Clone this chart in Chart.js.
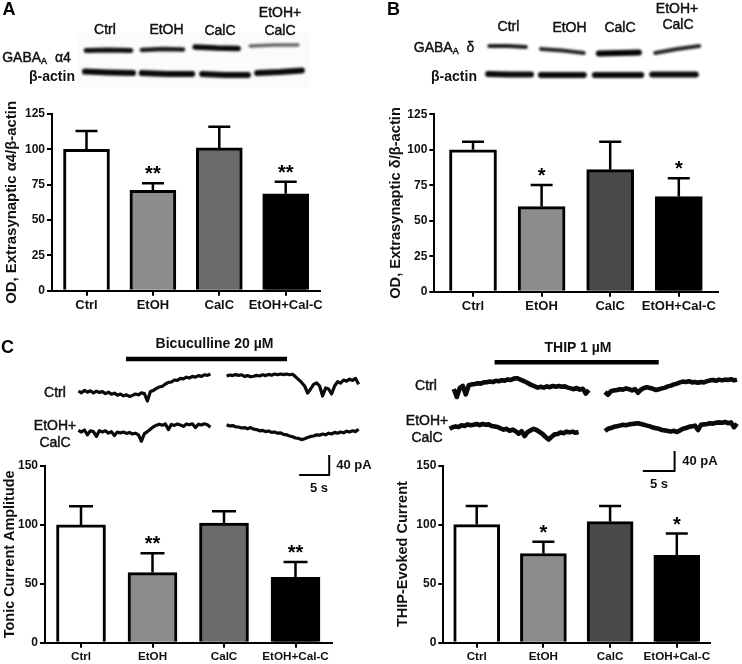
<!DOCTYPE html>
<html>
<head>
<meta charset="utf-8">
<script src="https://cdn.jsdelivr.net/npm/chart.js@4"></script>
<style>
html, body { margin: 0; background: #fff; }
#fig { position: relative; width: 742px; height: 664px; overflow: hidden; filter: blur(0.4px); font-family: "Liberation Sans", Arial, sans-serif; color: #111; }
canvas { position: absolute; }
.t { position: absolute; white-space: nowrap; font-size: 14px; -webkit-text-stroke: 0.45px #111; transform: translate(-50%, -50%); }
.b { font-weight: bold; -webkit-text-stroke: 0; }
.p { font-weight: bold; font-size: 18px; -webkit-text-stroke: 0; color: #000; }
sub { font-size: 9px; vertical-align: -2px; line-height: 0; }
</style>
</head>
<body>
<div id="fig"></div>
<script>
//bars

const categories = ["Ctrl", "EtOH", "CalC", "EtOH+Cal-C"];

const valuesA = [100, 71, 101, 68.5];
const errTopA = [113, 76, 116, 77];
const starsA = ["", "**", "", "**"];

const valuesB = [100, 60, 86, 67];
const errTopB = [105.7, 75.2, 105.7, 79.9];
const starsB = ["", "*", "", "*"];

const valuesC1 = [100, 59.5, 101.5, 55.5];
const errTopC1 = [115.8, 76, 111.5, 68.5];
const starsC1 = ["", "**", "", "**"];

const valuesC2 = [100, 75.5, 102.5, 74];
const errTopC2 = [115.8, 85.4, 115.8, 92.4];
const starsC2 = ["", "*", "", "*"];

//blots: lane positions and band levels (left, middle, right)

const laneA4 = [[0.14, 0.91], [1.10, 1.81], [2.02, 2.76], [2.97, 3.79]];
const levelA4 = [[18.5, 18, 18.5], [18, 17, 17.5], [15, 16, 16.5], [14, 13, 13]];
const laneActinA = [[0.12, 0.95], [1.10, 1.97], [2.14, 2.93], [3.09, 3.86]];
const levelActinA = [[39.5, 40.5, 41], [41, 42, 42], [42, 43, 43], [41, 40, 38.5]];

const laneDelta = [[0.16, 0.79], [1.05, 1.79], [2.05, 2.74], [3.02, 3.78]];
const levelDelta = [[14, 14, 15], [17, 18.5, 21], [21.5, 21, 20.5], [21, 17, 14]];
const laneActinB = [[0.14, 0.88], [1.05, 1.79], [1.98, 2.78], [2.97, 3.72]];
const levelActinB = [[42, 42.5, 42.5], [43, 43, 43], [43, 43, 43], [42.5, 42.5, 42.5]];

//traces, one sample each 0.5 s, 1 unit = 4 pA

const ctrlBic1 = [44.5,43.6,44.8,43.9,44.6,43.5,44.4,43.8,44.2,43.2,43.9,42.9,43.4,42.4,43.0,42.1,42.6,41.8,42.3,43.0,42.6,43.6,43.2,39.5,44.2,44.8,45.8,46.5,46.9,48.0,48.8,49.0,50.0,49.8,50.8,50.6,51.4,51.0,51.8,51.4,52.2,51.8,52.6,52.3,53.0];
const ctrlBic2 = [52,52.5,52.2,52.7,52.3,52.6,51.8,52.2,51.6,51.9,52.3,52,52.6,52.2,52.8,52.4,53,52.6,53,52.7,53,52.6,52.9,51.6,50.2,48.8,47,43.5,45.5,47.8,48.6,47,42,46,45.5,43,47,49.2,48.4,50,49.4,50.4,49.8,50.8,47.8];
const etohBic1 = [24.8,24.0,25.0,22.6,24.6,24.2,21.8,24.7,24.0,24.6,23.4,24.2,22.2,24.0,23.5,24.0,23.3,23.8,23.0,23.4,22.6,19.4,23.2,24.2,25.4,26.6,27.4,27.9,27.4,28,25.2,27.8,27.3,28,27.5,26.8,28,27.6,28.1,26.2,27.9,27.5,28.1,27.6,26.4];
const etohBic2 = [27.6,27.0,27.2,26.6,26.5,26,26.2,25.6,26.2,25.4,25.2,24.6,24.8,24.2,24.5,23.8,24.0,23.4,23.6,22.8,22.6,22,21.6,21,20.8,20.2,20.6,21.2,21.8,22,22.6,22.4,23,22.6,23.4,23,23.8,23.4,24,23.6,24.4,24,24.6,24.2,25.4];

const ctrlThip1 = [45.5,41.5,46,47,42.8,47.4,47.8,48,48.4,48.2,48.8,48.9,49.2,49,49.6,49.4,49.9,49.7,50.3,50,50.7,50.9,50.3,49.7,49,48.2,47.4,46.8,46.2,46.6,46.2,46.8,46.4,47,46.6,47,46.6,46.8,46.2,45.8,45.4,46,45.2,45.6,43.2,45];
const ctrlThip2 = [44,42.6,44.4,44.8,45,45.4,45.2,45.8,45.4,44.8,45.4,43.6,45.2,46,46.4,46,45.6,45,45.4,45.8,46.2,46.8,47.2,47.8,48.2,48.8,49.2,49,49.4,48.8,49,48.6,49,48.8,49.4,49.8,50,49.6,50.2,49.8,50.2,50,50.4,49.8,50.2];
const etohThip1 = [25.6,26.4,26.8,26.5,27.4,27,27.8,27.4,27.6,28,27.4,28,27.6,27.8,27,26.8,26.5,25.8,25.2,25.6,24.6,25.2,24.4,23.2,24.4,22,24,24.8,25.6,25,24,23,21.5,20.2,21.6,22.8,23,23.8,23.4,24.2,23.8,24.2,23.6,24];
const etohThip2 = [24.5,25.6,26,26.6,26.9,27.2,27.6,27.4,27.8,28,28.2,28.4,28,27.6,27.2,26.8,26.2,25.9,25.6,25,24.8,24.5,24.2,24.6,24,24.8,25.6,26,26.6,26.8,27.2,25,27.6,27.8,28,28.4,28.2,28.6,28.8,28.6,29,28.4,28.8,26.4,28.2];

const FONT = "'Liberation Sans', Arial, sans-serif";
let fig = document.getElementById("fig");

function addCanvas(left, top, w, h) {
	let c = document.createElement("canvas");
	c.width = w;
	c.height = h;
	c.style.left = left + "px";
	c.style.top = top + "px";
	c.style.width = w + "px";
	c.style.height = h + "px";
	fig.appendChild(c);
	return c;
}

function label(html, x, y, cls, size) {
	let d = document.createElement("div");
	d.className = "t " + (cls || "");
	d.innerHTML = html;
	d.style.left = x + "px";
	d.style.top = y + "px";
	if (size) d.style.fontSize = size + "px";
	fig.appendChild(d);
}

// s holds the box of one bar panel, all in page pixels
function barPanel(s) {
	let c = addCanvas(s.cx, s.cy, s.cw, s.ch);
	let errPlugin = {
		id: "errs",
		afterDatasetsDraw(chart) {
			let ctx = chart.ctx, x = chart.scales.x, y = chart.scales.y;
			ctx.save();
			ctx.strokeStyle = "#000";
			ctx.fillStyle = "#000";
			ctx.lineWidth = 2.5;
			s.values.forEach((v, i) => {
				let px = x.getPixelForValue(i);
				let top = y.getPixelForValue(s.errTop[i]);
				ctx.beginPath();
				ctx.moveTo(px, y.getPixelForValue(v));
				ctx.lineTo(px, top);
				ctx.moveTo(px - s.cap, top);
				ctx.lineTo(px + s.cap, top);
				ctx.stroke();
				if (s.stars[i]) {
					ctx.font = "bold 20px " + FONT;
					ctx.textAlign = "center";
					ctx.textBaseline = "alphabetic";
					ctx.fillText(s.stars[i], px, top - 3);
				}
			});
			ctx.restore();
		}
	};
	new Chart(c, {
		type: "bar",
		plugins: [errPlugin],
		data: {
			datasets: [{
				data: s.values.map((v, i) => ({ x: i, y: v })),
				backgroundColor: s.fills,
				borderColor: "#000",
				borderWidth: 3,
				borderSkipped: "bottom",
				barThickness: s.barW
			}]
		},
		options: {
			responsive: false,
			animation: false,
			layout: { padding: { top: s.yTop - s.cy, right: s.cx + s.cw - s.right, left: 0, bottom: 0 } },
			plugins: { legend: { display: false }, tooltip: { enabled: false } },
			scales: {
				x: {
					type: "linear",
					offset: false,
					min: (s.left - s.c0) / s.step,
					max: (s.right - s.c0) / s.step,
					afterFit: a => { a.height = s.cy + s.ch - s.y0; },
					afterBuildTicks: a => { a.ticks = categories.map((n, i) => ({ value: i })); },
					border: { color: "#000", width: 2 },
					grid: { drawOnChartArea: false, offset: false, color: "#000", lineWidth: 2, tickLength: 5 },
					ticks: {
						autoSkip: false, maxRotation: 0, padding: 2, color: "#111",
						font: { family: FONT, weight: "bold", size: s.xSize },
						callback: v => categories[v]
					}
				},
				y: {
					min: 0,
					max: s.max,
					afterFit: a => { a.width = s.left - s.cx; },
					border: { color: "#000", width: 2 },
					grid: { drawOnChartArea: false, color: "#000", lineWidth: 2, tickLength: 5 },
					title: {
						display: true, text: s.title, color: "#111",
						padding: { top: s.titlePad, bottom: 0 },
						font: { family: FONT, weight: "bold", size: s.titleSize }
					},
					ticks: {
						stepSize: s.stepY, padding: 2, color: "#111",
						font: { family: FONT, weight: "bold", size: 12 }
					}
				}
			}
		}
	});
}

function linePanel(left, top, w, h, xMax, yMax, reverse, datasets, blur, bg) {
	let c = addCanvas(left, top, w, h);
	if (blur) c.style.filter = "blur(" + blur + "px)";
	if (bg) c.style.background = bg;
	new Chart(c, {
		type: "line",
		data: { datasets: datasets },
		options: {
			responsive: false,
			animation: false,
			layout: { padding: 0 },
			plugins: { legend: { display: false }, tooltip: { enabled: false } },
			elements: { point: { radius: 0 }, line: { tension: 0, borderJoinStyle: "round" } },
			scales: {
				x: { type: "linear", min: 0, max: xMax, display: false },
				y: { type: "linear", min: 0, max: yMax, reverse: reverse, display: false }
			}
		}
	});
}

function bands(lanes, levels, colors, widths) {
	return lanes.map((l, i) => ({
		data: levels[i].map((v, j) => ({ x: l[0] + (l[1] - l[0]) * j / 2, y: v })),
		borderColor: colors[i],
		borderWidth: widths[i],
		borderCapStyle: "round"
	}));
}

function trace(values, start, width) {
	return {
		data: values.map((v, i) => ({ x: start + i * 0.5, y: v })),
		borderColor: "#0a0a0a",
		borderWidth: width
	};
}

function solid(xs, ys, width) {
	return {
		data: xs.map((x, i) => ({ x: x, y: ys[i] })),
		borderColor: "#000",
		borderWidth: width
	};
}

//panels A and B

barPanel({ cx: 0, cy: 100, cw: 345, ch: 220, left: 52, right: 320, yTop: 114, y0: 290.7, c0: 86.5, step: 66.4, barW: 46, cap: 11,
	max: 125, stepY: 25, values: valuesA, errTop: errTopA, stars: starsA, fills: ["#fff", "#8c8c8c", "#6a6a6a", "#000"],
	title: "OD, Extrasynaptic α4/β-actin", titleSize: 14.9, titlePad: 3, xSize: 13 });

barPanel({ cx: 371, cy: 100, cw: 371, ch: 220, left: 434.3, right: 718, yTop: 114.3, y0: 291.7, c0: 473, step: 68.6, barW: 47, cap: 11,
	max: 125, stepY: 25, values: valuesB, errTop: errTopB, stars: starsB, fills: ["#fff", "#8c8c8c", "#4a4a4a", "#000"],
	title: "OD, Extrasynaptic δ/β-actin", titleSize: 14.7, titlePad: 16, xSize: 13 });

//panel C bars

barPanel({ cx: 0, cy: 455, cw: 345, ch: 209, left: 45, right: 331.7, yTop: 466, y0: 642.7, c0: 81, step: 71.5, barW: 49, cap: 12,
	max: 150, stepY: 50, values: valuesC1, errTop: errTopC1, stars: starsC1, fills: ["#fff", "#8c8c8c", "#6a6a6a", "#000"],
	title: "Tonic Current Amplitude", titleSize: 14.4, titlePad: 1, xSize: 11.7 });

barPanel({ cx: 371, cy: 455, cw: 371, ch: 209, left: 443.3, right: 710, yTop: 465.5, y0: 642.7, c0: 476.7, step: 66.7, barW: 46, cap: 11,
	max: 150, stepY: 50, values: valuesC2, errTop: errTopC2, stars: starsC2, fills: ["#fff", "#8c8c8c", "#4a4a4a", "#000"],
	title: "THIP-Evoked Current", titleSize: 14.5, titlePad: 23, xSize: 11.7 });

//blots

let blotA = bands(laneA4, levelA4, ["#111", "#1c1c1c", "#0a0a0a", "#666"], [5, 4.5, 5.5, 3.5])
	.concat(bands(laneActinA, levelActinA, ["#0a0a0a", "#0a0a0a", "#0a0a0a", "#0a0a0a"], [6, 6, 6, 6]));
linePanel(78, 32, 232, 56, 4, 56, true, blotA, 1.1, "#fbfbfb");

let blotB = bands(laneDelta, levelDelta, ["#1c1c1c", "#262626", "#050505", "#262626"], [4, 4, 6, 4])
	.concat(bands(laneActinB, levelActinB, ["#0a0a0a", "#0a0a0a", "#0a0a0a", "#0a0a0a"], [6, 6, 6, 6]));
linePanel(480, 32, 232, 56, 4, 56, true, blotB, 1.1);

//traces with the drug bar and the scale bar

linePanel(70, 350, 300, 130, 50, 65, false, [
	trace(ctrlBic1, 1.4, 3.2), trace(ctrlBic2, 26.1, 3.2), trace(etohBic1, 1.4, 3.2), trace(etohBic2, 26.1, 3.2),
	solid([9.33, 36.17], [60.5, 60.5], 4.5),
	solid([38.2, 43.2, 43.2], [2.5, 2.5, 12.5], 2)
]);

linePanel(440, 350, 300, 130, 50, 65, false, [
	trace(ctrlThip1, 2.3, 4.6), trace(ctrlThip2, 27.5, 4.6), trace(etohThip1, 1.6, 4.6), trace(etohThip2, 27.5, 4.6),
	solid([9.1, 36.45], [58.85, 58.85], 4.5),
	solid([33.8, 39.1, 39.1], [4.5, 4.5, 14.5], 2)
]);

//text

label("A", 9, 9, "p");
label("B", 393.5, 9, "p");
label("C", 7.5, 347, "p");

label("Ctrl", 105, 29);
label("EtOH", 166.5, 29);
label("CalC", 220, 30);
label("EtOH+", 280, 12);
label("CalC", 280, 30);
label("GABA<sub>A</sub>&nbsp; α4", 36.5, 57);
label("β-actin", 52, 76, "b");

label("Ctrl", 508.5, 26);
label("EtOH", 569.5, 27);
label("CalC", 620, 27);
label("EtOH+", 677, 8);
label("CalC", 678, 24);
label("GABA<sub>A</sub>&nbsp; δ", 444, 47);
label("β-actin", 454, 76, "b");

label("Bicuculline 20 µM", 214.5, 343, "b", 14);
label("Ctrl", 55, 392);
label("EtOH+", 55, 425);
label("CalC", 55, 442);
label("40 pA", 354, 464, "b", 13);
label("5 s", 319, 487, "b", 13);

label("THIP 1 µM", 578, 347, "b", 14);
label("Ctrl", 426, 385);
label("EtOH+", 427, 420);
label("CalC", 427, 437);
label("40 pA", 700, 460, "b", 13);
label("5 s", 659, 483, "b", 13);
</script>
</body>
</html>
